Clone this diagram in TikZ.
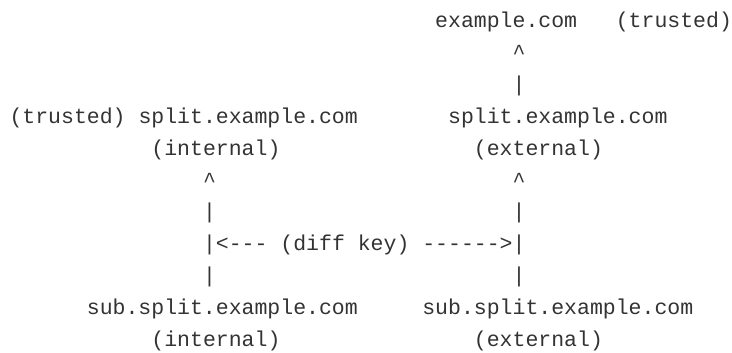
\documentclass[tikz,border=0pt]{standalone}
\usepackage{fontspec}
\setmonofont{Liberation Mono}
\definecolor{ink}{HTML}{333333}
\tikzset{
  asc/.style={anchor=base west, inner sep=0pt, outer sep=0pt, text=ink,
    font=\ttfamily\fontsize{21.5}{25}\selectfont},
}
\newcommand{\cx}[1]{9.5+12.9*#1}
\newcommand{\ly}[1]{-(28+31.8*#1)}
\begin{document}
\begin{tikzpicture}[x=1pt,y=1pt]
\useasboundingbox (0,0) rectangle (732,-353);
% line 1
\node[asc] (top) at ({\cx{33}},{\ly{0}}) {example.com};
\node[asc] (toptr) at ({\cx{47}},{\ly{0}}) {(trusted)};
% lines 2-3
\node[asc] (c1) at ({\cx{39}},{\ly{1}}) {\textasciicircum};
\node[asc] (p1) at ({\cx{39}},{\ly{2}}) {|};
% line 4
\node[asc] (lefttr) at ({\cx{0}},{\ly{3}}) {(trusted)};
\node[asc] (splitint) at ({\cx{10}},{\ly{3}}) {split.example.com};
\node[asc] (splitext) at ({\cx{34}},{\ly{3}}) {split.example.com};
% line 5
\node[asc] (int1) at ({\cx{11}},{\ly{4}}) {(internal)};
\node[asc] (ext1) at ({\cx{36}},{\ly{4}}) {(external)};
% line 6
\node[asc] (c2) at ({\cx{15}},{\ly{5}}) {\textasciicircum};
\node[asc] (c3) at ({\cx{39}},{\ly{5}}) {\textasciicircum};
% line 7
\node[asc] (p2) at ({\cx{15}},{\ly{6}}) {|};
\node[asc] (p3) at ({\cx{39}},{\ly{6}}) {|};
% line 8
\node[asc] (la) at ({\cx{15}},{\ly{7}}) {|<-{}-{}-};
\node[asc] (dk) at ({\cx{21}},{\ly{7}}) {(diff key)};
\node[asc] (ra) at ({\cx{32}},{\ly{7}}) {-{}-{}-{}-{}-{}->|};
% line 9
\node[asc] (p4) at ({\cx{15}},{\ly{8}}) {|};
\node[asc] (p5) at ({\cx{39}},{\ly{8}}) {|};
% line 10
\node[asc] (subint) at ({\cx{6}},{\ly{9}}) {sub.split.example.com};
\node[asc] (subext) at ({\cx{32}},{\ly{9}}) {sub.split.example.com};
% line 11
\node[asc] (int2) at ({\cx{11}},{\ly{10}}) {(internal)};
\node[asc] (ext2) at ({\cx{36}},{\ly{10}}) {(external)};
\end{tikzpicture}
\end{document}
